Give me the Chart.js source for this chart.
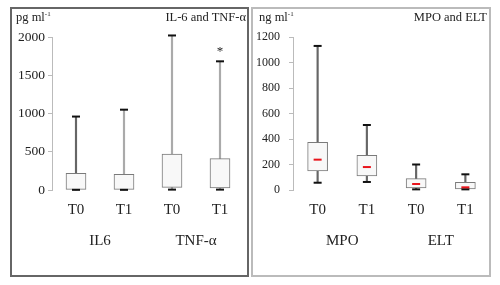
<!DOCTYPE html>
<html>
<head>
<meta charset="utf-8">
<script src="https://cdn.jsdelivr.net/npm/chart.js@4.4.1/dist/chart.umd.min.js"></script>
<style>
  body { margin: 0; background: #fff; font-family: "Liberation Serif", serif; }
  .wrap { position: absolute; top: 0; width: 250px; height: 285px; }
  .frame { position: absolute; top: 7px; height: 270px; box-sizing: border-box; }
  .lbl { position: absolute; top: 10px; font-size: 12.5px; color: #222; white-space: nowrap; }
  .lbl sup { font-size: 7px; }
</style>
</head>
<body>
<div class="frame" style="left:10px;width:239px;border:2px solid #666"></div>
<div class="frame" style="left:251px;width:240px;border:2px solid #bbb"></div>
<div class="wrap" style="left:0"><canvas id="left"></canvas></div>
<div class="wrap" style="left:250px"><canvas id="right"></canvas></div>
<div class="lbl" style="left:16px">pg ml<sup>-1</sup></div>
<div class="lbl" style="right:254px">IL-6 and TNF-α</div>
<div class="lbl" style="left:259px">ng ml<sup>-1</sup></div>
<div class="lbl" style="right:13px">MPO and ELT</div>
<script>
const times = ["T0", "T1", "T0", "T1"];

// IL-6 / TNF-α (pg/ml)
const leftGroups = ["IL6", "TNF-α"];
const leftMin = [2, 2, 5, 5];
const leftQ1 = [8, 8, 35, 26];
const leftQ3 = [218, 205, 470, 410];
const leftMax = [960, 1050, 2020, 1682];
const leftWhiskerColor = ["#666", "#aaa", "#aaa", "#aaa"];
const leftStars = ["", "", "", "*"];

// MPO / ELT (ng/ml)
const rightGroups = ["MPO", "ELT"];
const rightMin = [57, 63, 5, 5];
const rightQ1 = [149, 110, 16, 8];
const rightMedian = [238, 180, 47, 21];
const rightQ3 = [374, 272, 89, 60];
const rightMax = [1130, 510, 200, 123];

const starPlugin = {
  id: "stars",
  afterDatasetsDraw(chart, args, opts) {
    if (!opts.marks) return;
    const ctx = chart.ctx;
    ctx.save();
    ctx.fillStyle = "#222";
    ctx.font = "13px 'Liberation Serif'";
    ctx.textAlign = "center";
    ctx.textBaseline = "bottom";
    opts.marks.forEach((m, i) => {
      if (!m) return;
      const x = chart.scales.x.getPixelForValue(i);
      const y = chart.scales.y.getPixelForValue(opts.at[i]);
      ctx.fillText(m, x, y - 3);
    });
    ctx.restore();
  }
};

function boxChart(id, d) {
  const datasets = [
    {
      type: "line", label: "median", data: d.median || [], showLine: false,
      pointStyle: "line", pointRadius: 4, borderWidth: 2, borderColor: "#e8141b",
      order: 0, clip: false
    },
    {
      type: "line", label: "max", data: d.max, showLine: false,
      pointStyle: "line", pointRadius: 4, borderWidth: 2, borderColor: "#111",
      order: 1, clip: false
    },
    {
      type: "line", label: "min", data: d.min, showLine: false,
      pointStyle: "line", pointRadius: 4, borderWidth: 2, borderColor: "#111",
      order: 1, clip: false
    },
    {
      label: "box", data: d.q1.map((v, i) => [v, d.q3[i]]),
      backgroundColor: "#f8f8f8", borderColor: "#7a7a7a", borderWidth: 1,
      borderSkipped: false, barThickness: 20, grouped: false, order: 2
    },
    {
      label: "whisker", data: d.min.map((v, i) => [v, d.max[i]]),
      backgroundColor: d.whisker, borderWidth: 0,
      barThickness: 1.5, grouped: false, order: 3, clip: false
    }
  ];
  return new Chart(document.getElementById(id), {
    type: "bar",
    data: { labels: times, datasets },
    plugins: [starPlugin],
    options: {
      responsive: true,
      maintainAspectRatio: false,
      animation: false,
      events: [],
      layout: { padding: { top: 37, right: d.padRight, bottom: 0, left: 0 } },
      plugins: {
        legend: { display: false },
        tooltip: { enabled: false },
        stars: { marks: d.stars, at: d.max }
      },
      scales: {
        x: {
          offset: true,
          grid: { display: false, drawTicks: false },
          border: { display: false },
          ticks: { color: "#222", padding: 11, font: { family: "Liberation Serif", size: 15 } },
          afterFit: s => { s.height = 35; }
        },
        x2: {
          type: "category",
          labels: d.groups,
          position: "bottom",
          offset: true,
          grid: { display: false, drawTicks: false },
          border: { display: false },
          ticks: { color: "#222", padding: 7, font: { family: "Liberation Serif", size: 15 } },
          afterFit: s => { s.height = 60; }
        },
        y: {
          min: 0, max: d.max_y,
          ticks: {
            stepSize: d.step, color: "#222", padding: d.tickPad,
            font: { family: "Liberation Serif", size: d.fontSize },
            callback: v => String(v)
          },
          grid: { drawOnChartArea: false, tickLength: 4, color: "#bbb" },
          border: { color: "#bbb" },
          afterFit: s => { s.width = d.axisW; }
        }
      }
    }
  });
}

boxChart("left", {
  min: leftMin, q1: leftQ1, q3: leftQ3, max: leftMax,
  whisker: leftWhiskerColor, stars: leftStars, groups: leftGroups,
  max_y: 2000, step: 500, axisW: 52, padRight: 2, tickPad: 3, fontSize: 13.5
});

boxChart("right", {
  min: rightMin, q1: rightQ1, median: rightMedian, q3: rightQ3, max: rightMax,
  whisker: "#666", groups: rightGroups,
  max_y: 1200, step: 200, axisW: 43, padRight: 10, tickPad: 9, fontSize: 12
});
</script>
</body>
</html>
